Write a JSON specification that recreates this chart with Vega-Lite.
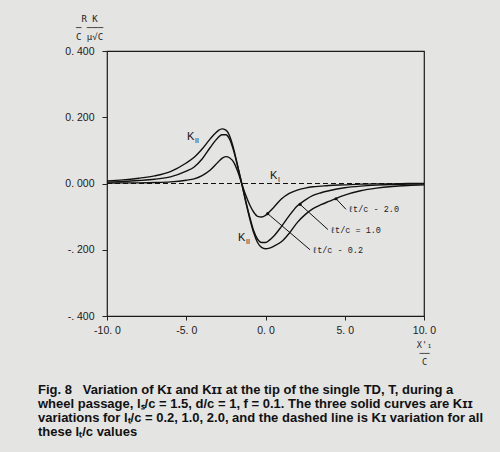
{
  "$schema": "https://vega.github.io/schema/vega-lite/v6.json",
  "width": 317,
  "height": 265,
  "autosize": "none",
  "padding": {"left": 107, "top": 51, "right": 76, "bottom": 136},
  "background": "#e4e4e2",
  "config": {"view": {"stroke": "#1a1a1a", "strokeWidth": 1.2}, "font": "Liberation Sans"},
  "title": {
    "text": [
      "Fig. 8\u00a0\u00a0\u00a0Variation of Kɪ and Kɪɪ at the tip of the single TD, T, during a",
      "wheel passage, lₛ/c = 1.5, d/c = 1, f = 0.1. The three solid curves are Kɪɪ",
      "variations for lₜ/c = 0.2, 1.0, 2.0, and the dashed line is Kɪ variation for all",
      "these lₜ/c values"
    ],
    "orient": "bottom",
    "anchor": "start",
    "frame": "group",
    "font": "Liberation Sans",
    "fontSize": 13,
    "fontWeight": "bold",
    "color": "#111",
    "lineHeight": 14,
    "offset": 18,
    "dx": -69
  },
  "datasets": {
    "curves": [
      {"x": -10, "t20": 0.008, "t10": 0.004, "t02": 0.001},
      {"x": -9, "t20": 0.011, "t10": 0.006, "t02": 0.002},
      {"x": -8, "t20": 0.016, "t10": 0.009, "t02": 0.002},
      {"x": -7, "t20": 0.023, "t10": 0.013, "t02": 0.003},
      {"x": -6, "t20": 0.036, "t10": 0.020, "t02": 0.005},
      {"x": -5, "t20": 0.062, "t10": 0.037, "t02": 0.010},
      {"x": -4.5, "t20": 0.079, "t10": 0.050, "t02": 0.014},
      {"x": -4, "t20": 0.104, "t10": 0.074, "t02": 0.024},
      {"x": -3.5, "t20": 0.134, "t10": 0.108, "t02": 0.040},
      {"x": -3, "t20": 0.159, "t10": 0.138, "t02": 0.064},
      {"x": -2.75, "t20": 0.165, "t10": 0.147, "t02": 0.076},
      {"x": -2.5, "t20": 0.161, "t10": 0.147, "t02": 0.081},
      {"x": -2.25, "t20": 0.142, "t10": 0.132, "t02": 0.077},
      {"x": -2, "t20": 0.103, "t10": 0.097, "t02": 0.064},
      {"x": -1.75, "t20": 0.052, "t10": 0.050, "t02": 0.036},
      {"x": -1.5, "t20": 0.000, "t10": 0.000, "t02": 0.000},
      {"x": -1.25, "t20": -0.055, "t10": -0.052, "t02": -0.035},
      {"x": -1, "t20": -0.105, "t10": -0.100, "t02": -0.064},
      {"x": -0.75, "t20": -0.148, "t10": -0.142, "t02": -0.086},
      {"x": -0.5, "t20": -0.178, "t10": -0.168, "t02": -0.099},
      {"x": -0.25, "t20": -0.193, "t10": -0.178, "t02": -0.101},
      {"x": 0, "t20": -0.197, "t10": -0.178, "t02": -0.096},
      {"x": 0.25, "t20": -0.195, "t10": -0.171, "t02": -0.085},
      {"x": 0.5, "t20": -0.190, "t10": -0.160, "t02": -0.073},
      {"x": 1, "t20": -0.176, "t10": -0.130, "t02": -0.047},
      {"x": 1.5, "t20": -0.150, "t10": -0.097, "t02": -0.030},
      {"x": 2, "t20": -0.118, "t10": -0.068, "t02": -0.020},
      {"x": 2.5, "t20": -0.094, "t10": -0.050, "t02": -0.014},
      {"x": 3, "t20": -0.076, "t10": -0.036, "t02": -0.010},
      {"x": 3.5, "t20": -0.064, "t10": -0.028, "t02": -0.008},
      {"x": 4, "t20": -0.054, "t10": -0.022, "t02": -0.006},
      {"x": 5, "t20": -0.035, "t10": -0.013, "t02": -0.004},
      {"x": 6, "t20": -0.022, "t10": -0.008, "t02": -0.002},
      {"x": 7, "t20": -0.014, "t10": -0.005, "t02": -0.001},
      {"x": 8, "t20": -0.009, "t10": -0.003, "t02": -0.001},
      {"x": 9, "t20": -0.006, "t10": -0.002, "t02": 0.000},
      {"x": 10, "t20": -0.004, "t10": -0.001, "t02": 0.000}
    ],
    "ki": [{"x": -10, "k": 0}, {"x": 10, "k": 0}],
    "klabels": [
      {"x": -4.95, "y": 0.140, "m": "K", "s": "II"},
      {"x": -1.73, "y": -0.166, "m": "K", "s": "II"},
      {"x": 0.28, "y": 0.024, "m": "K", "s": "I"}
    ],
    "arrows": [
      {"x": 4.45, "y": -0.046, "x2": 5.08, "y2": -0.078, "t": "ℓt/c - 2.0"},
      {"x": 2.18, "y": -0.063, "x2": 3.94, "y2": -0.139, "t": "ℓt/c = 1.0"},
      {"x": 0.14, "y": -0.091, "x2": 2.81, "y2": -0.2, "t": "ℓt/c - 0.2"}
    ]
  },
  "layer": [
    {
      "data": {"name": "curves"},
      "transform": [{"fold": ["t20", "t10", "t02"], "as": ["series", "k"]}],
      "mark": {"type": "line", "color": "#111", "strokeWidth": 1.4, "interpolate": "monotone"},
      "encoding": {
        "x": {
          "field": "x", "type": "quantitative",
          "scale": {"domain": [-10, 10], "nice": false},
          "axis": {
            "values": [-10, -5, 0, 5, 10],
            "labelExpr": "(datum.value < 0 ? '-' : '') + format(abs(datum.value), 'd') + '. 0'",
            "grid": false, "domain": false, "labelFlush": false,
            "tickSize": 4, "tickColor": "#222",
            "labelFont": "Liberation Sans", "labelFontSize": 10.5, "labelColor": "#1a1a1a", "labelPadding": 5,
            "title": ["X'₁", "──", "C"],
            "titleFont": "DejaVu Sans Mono", "titleFontSize": 8.5, "titleFontWeight": "normal", "titleColor": "#222",
            "titleLineHeight": 8.5, "titleX": 317, "titleY": 24, "titleBaseline": "top", "titleAlign": "center"
          }
        },
        "y": {
          "field": "k", "type": "quantitative",
          "scale": {"domain": [-0.4, 0.4], "nice": false},
          "axis": {
            "values": [-0.4, -0.2, 0, 0.2, 0.4],
            "labelExpr": "datum.value < 0 ? '-. ' + format(-datum.value * 1000, '03d') : '0. ' + format(datum.value * 1000, '03d')",
            "grid": false, "domain": false, "labelFlush": false,
            "tickSize": 5, "tickColor": "#222",
            "labelFont": "Liberation Sans", "labelFontSize": 10.5, "labelColor": "#1a1a1a", "labelPadding": 8,
            "title": ["R  K ", "─ ───", "C μ√C"],
            "titleFont": "DejaVu Sans Mono", "titleFontSize": 9, "titleFontWeight": "normal", "titleColor": "#222",
            "titleLineHeight": 9, "titleAngle": 0, "titleX": -18, "titleY": -37, "titleBaseline": "top", "titleAlign": "center"
          }
        },
        "detail": {"field": "series"}
      }
    },
    {
      "data": {"name": "ki"},
      "mark": {"type": "line", "color": "#111", "strokeWidth": 1.2, "strokeDash": [5, 3]},
      "encoding": {
        "x": {"field": "x", "type": "quantitative"},
        "y": {"field": "k", "type": "quantitative"}
      }
    },
    {
      "data": {"name": "klabels"},
      "mark": {"type": "text", "align": "left", "baseline": "middle", "fontSize": 11, "fill": "#111", "font": "Liberation Sans"},
      "encoding": {
        "x": {"field": "x", "type": "quantitative"},
        "y": {"field": "y", "type": "quantitative"},
        "text": {"field": "m"}
      }
    },
    {
      "data": {"name": "klabels"},
      "mark": {"type": "text", "align": "left", "baseline": "middle", "fontSize": 7, "dx": 8, "dy": 4, "fill": "#111", "font": "Liberation Sans"},
      "encoding": {
        "x": {"field": "x", "type": "quantitative"},
        "y": {"field": "y", "type": "quantitative"},
        "text": {"field": "s"}
      }
    },
    {
      "data": {"name": "arrows"},
      "mark": {"type": "rule", "color": "#111", "strokeWidth": 1},
      "encoding": {
        "x": {"field": "x", "type": "quantitative"},
        "y": {"field": "y", "type": "quantitative"},
        "x2": {"field": "x2"},
        "y2": {"field": "y2"}
      }
    },
    {
      "data": {"name": "arrows"},
      "mark": {"type": "point", "filled": true, "color": "#111", "size": 10, "opacity": 1},
      "encoding": {
        "x": {"field": "x", "type": "quantitative"},
        "y": {"field": "y", "type": "quantitative"}
      }
    },
    {
      "data": {"name": "arrows"},
      "mark": {"type": "text", "align": "left", "baseline": "middle", "fontSize": 8.5, "dx": 2, "fill": "#222", "font": "Liberation Mono"},
      "encoding": {
        "x": {"field": "x2", "type": "quantitative"},
        "y": {"field": "y2", "type": "quantitative"},
        "text": {"field": "t"}
      }
    }
  ]
}
